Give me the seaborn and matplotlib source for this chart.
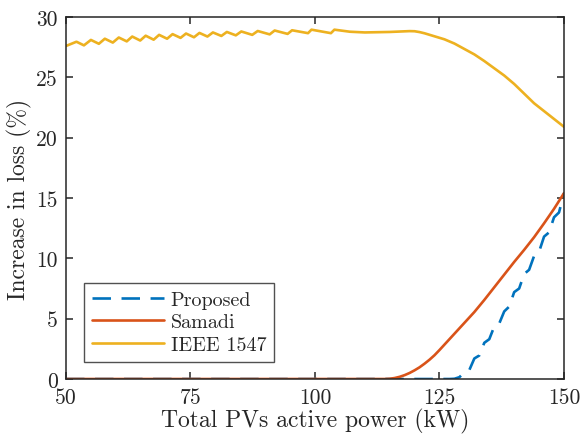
import numpy as np
import pandas as pd
import matplotlib
matplotlib.use("Agg")
import matplotlib.pyplot as plt
import seaborn as sns

# Proposed method: zero loss increase until ~127 kW, then a stepped rise
prop_x = [50, 126, 127, 128, 129, 130, 131, 132, 133, 134, 135, 136, 137, 138,
          139, 140, 141, 142, 143, 144, 145, 146, 147, 148, 149, 150]
prop_y = [0, 0, 0, 0.02, 0.15, 0.55, 0.75, 1.7, 1.95, 3.0, 3.3, 4.35, 4.6, 5.6,
          6.0, 7.2, 7.5, 8.7, 9.05, 10.2, 10.55, 11.8, 12.15, 13.4, 13.8, 15.4]

# Samadi method
sam_x = [50, 114, 115, 116, 117, 118, 119, 120, 121, 122, 123, 124, 125, 126,
         128, 130, 132, 134, 136, 138, 140, 142, 144, 146, 148, 150]
sam_y = [0, 0, 0.02, 0.08, 0.18, 0.32, 0.5, 0.72, 0.97, 1.27, 1.6, 1.97, 2.4, 2.85,
         3.75, 4.65, 5.55, 6.55, 7.6, 8.65, 9.7, 10.7, 11.75, 12.9, 14.1, 15.4]

# IEEE 1547
ieee_x = [50.0, 52.1, 53.6, 55.0, 56.6, 57.8, 59.4, 60.6, 62.2, 63.3, 64.9, 66.0,
          67.6, 68.7, 70.3, 71.4, 73.0, 74.1, 75.7, 76.8, 78.4, 79.5, 81.2, 82.3,
          84.1, 85.2, 87.4, 88.5, 90.9, 91.9, 94.5, 95.4, 98.6, 99.3, 103.2, 103.9,
          107, 110, 115, 119, 120, 121, 122, 124, 126, 128, 130, 132, 134, 136,
          138, 140, 142, 144, 146, 148, 150]
ieee_y = [27.60, 27.95, 27.65, 28.10, 27.78, 28.20, 27.88, 28.30, 27.98, 28.38,
          28.05, 28.45, 28.12, 28.52, 28.20, 28.58, 28.27, 28.63, 28.32, 28.68,
          28.38, 28.72, 28.43, 28.76, 28.48, 28.80, 28.52, 28.84, 28.56, 28.88,
          28.60, 28.90, 28.66, 28.95, 28.66, 28.95,
          28.78, 28.72, 28.76, 28.83, 28.82, 28.75, 28.65, 28.4, 28.15, 27.8,
          27.35, 26.9, 26.35, 25.75, 25.15, 24.45, 23.65, 22.85, 22.2, 21.55, 20.9]

x_ticks = [50, 75, 100, 125, 150]
y_ticks = [0, 5, 10, 15, 20, 25, 30]

sns.set_theme(style="ticks")
plt.rcParams["font.family"] = ["cmr10", "DejaVu Serif"]
plt.rcParams["axes.formatter.use_mathtext"] = True
plt.rcParams["mathtext.fontset"] = "cm"

fig = plt.figure(figsize=(5.81, 4.39), dpi=100)
ax = fig.add_axes([0.1136, 0.1344, 0.8571, 0.8246])

df_prop = pd.DataFrame({"x": prop_x, "y": prop_y})
df_sam = pd.DataFrame({"x": sam_x, "y": sam_y})
df_ieee = pd.DataFrame({"x": ieee_x, "y": ieee_y})

lw = 1.9
dash = (7.0, 4.0)
sns.lineplot(data=df_prop, x="x", y="y", ax=ax, color="#0072BD", lw=lw,
             label="Proposed", sort=False)
ax.lines[-1].set_dashes(dash)
sns.lineplot(data=df_sam, x="x", y="y", ax=ax, color="#D95319", lw=lw,
             label="Samadi", sort=False)
sns.lineplot(data=df_ieee, x="x", y="y", ax=ax, color="#EDB120", lw=lw,
             label="IEEE 1547", sort=False)

ax.set_xlim(50, 150)
ax.set_ylim(0, 30)
ax.set_xticks(x_ticks)
ax.set_yticks(y_ticks)
ax.set_xticklabels([str(t) for t in x_ticks])
ax.set_yticklabels([str(t) for t in y_ticks])
ax.tick_params(direction="in", length=5, width=1.1, top=True, right=True,
               labelsize=15.5, colors="#262626", pad=6)
for s in ax.spines.values():
    s.set_visible(True)
    s.set_linewidth(1.1)
    s.set_color("#262626")

ax.set_xlabel("Total PVs active power (kW)", fontsize=17, color="#262626", labelpad=1)
ax.set_ylabel("Increase in loss (%)", fontsize=17, color="#262626", labelpad=3)

leg = ax.legend(loc="lower left", bbox_to_anchor=(0.036, 0.047), fontsize=14.5,
                frameon=True, fancybox=False, edgecolor="#262626",
                handlelength=3.6, handletextpad=0.3, labelspacing=0.22,
                borderpad=0.4, borderaxespad=0)
leg.get_frame().set_linewidth(1.0)
leg.get_lines()[0].set_dashes(dash)

fig.savefig("out.png", dpi=100)
